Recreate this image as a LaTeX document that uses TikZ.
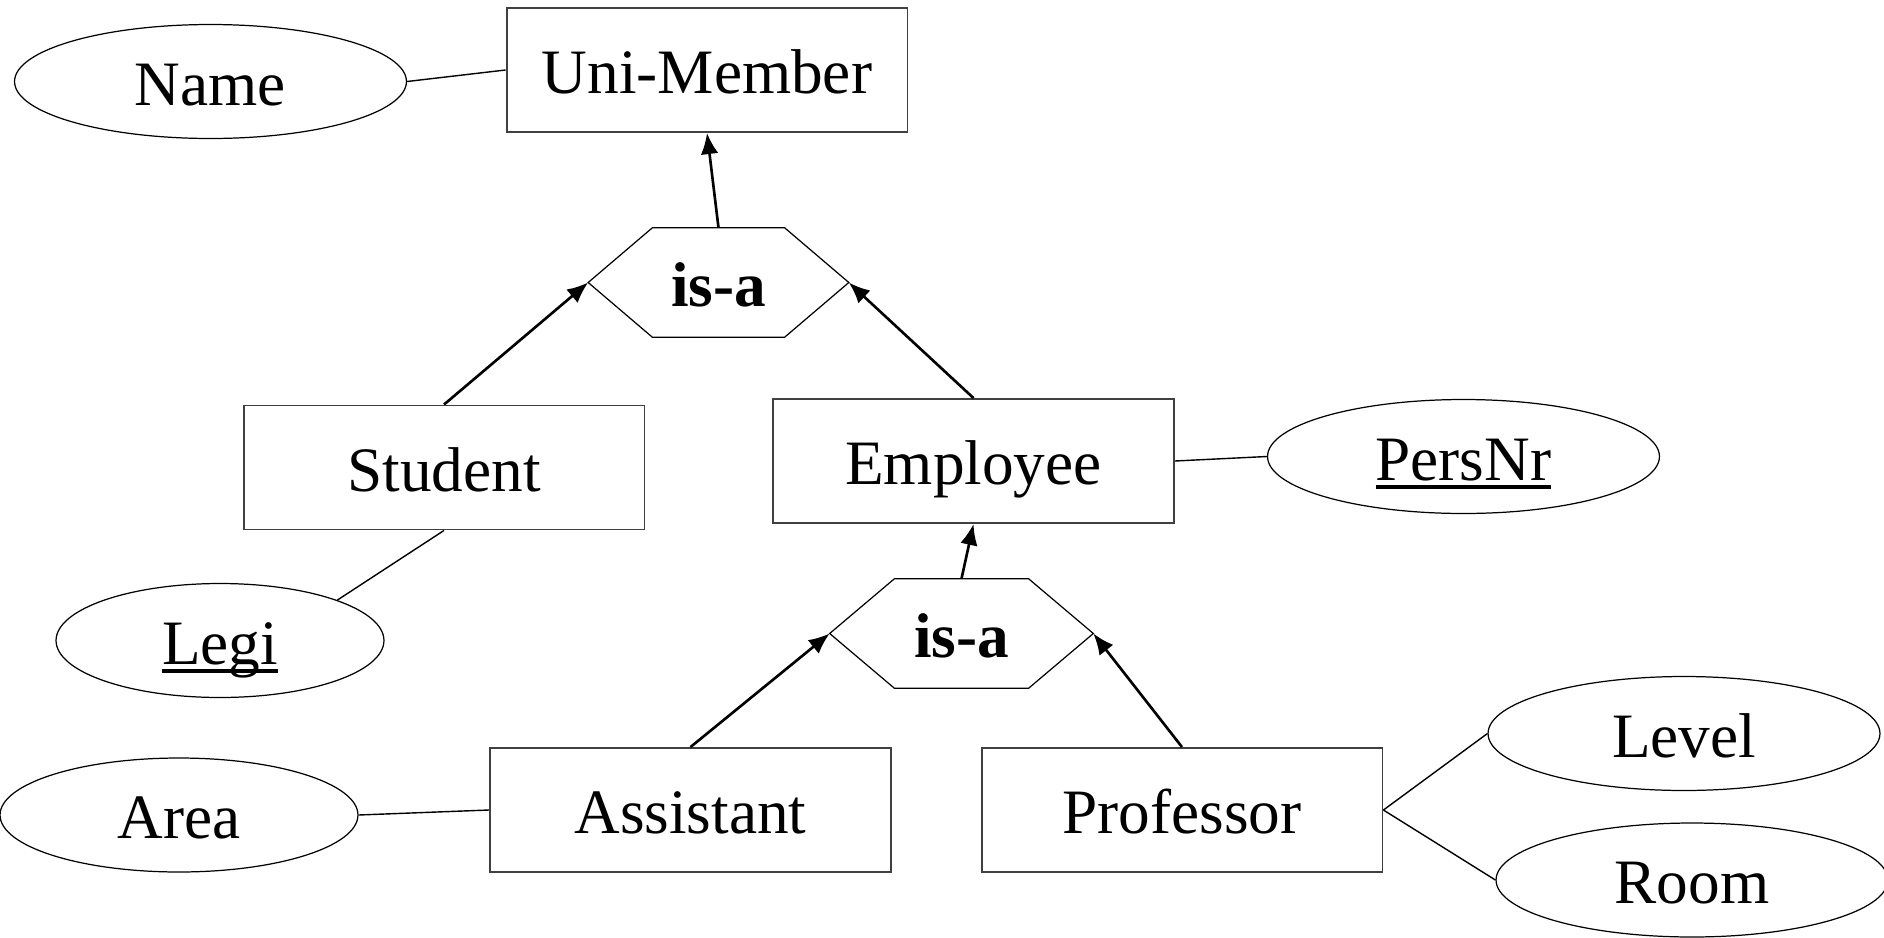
\documentclass[tikz,border=0pt]{standalone}
\usepackage{fontspec}
\setmainfont{Liberation Serif}
\usetikzlibrary{arrows.meta,calc,shapes.geometric}
% key attribute: text with a thick underline below the baseline
\newcommand\keyattr[1]{\vtop{\hbox{\raisebox{0pt}[\height][0pt]{#1}}\kern2.6pt\hrule height 2.4pt}}
\begin{document}
\begin{tikzpicture}[x=0.02cm,y=-0.02cm,
  every node/.style={font=\fontsize{36}{40}\selectfont, text height=27pt, text depth=0pt, inner sep=0pt},
  entity/.style={draw=black!75, line width=1.1pt, minimum width=8.02cm, minimum height=2.48cm},
  attr/.style={draw, ellipse, line width=0.7pt, minimum width=7.84cm, minimum height=2.28cm},
  isabox/.style={minimum width=5.2cm, minimum height=2.18cm, font=\fontsize{36}{40}\selectfont\bfseries},
  hexline/.style={line width=0.7pt},
  isa/.style={line width=1.5pt, -{Latex[length=12pt,width=10pt]}},
  link/.style={line width=0.8pt}]
\useasboundingbox (0,0) rectangle (1884,937);

% entities
\node[entity] (um)   at (707,70)    {Uni-Member};
\node[entity] (stu)  at (444,467.5) {Student};
\node[entity] (emp)  at (973.5,461) {Employee};
\node[entity] (asst) at (690.5,810) {Assistant};
\node[entity] (prof) at (1182,810)  {Professor};

% attributes
\node[attr] (name)  at (210.5,81.5)  {Name};
\node[attr] (pers)  at (1463.5,456.5) {\keyattr{PersNr}};
\node[attr, minimum width=6.56cm] (legi) at (220,640.5) {\keyattr{Legi}};
\node[attr, minimum width=7.16cm] (area) at (179,815) {Area};
\node[attr] (level) at (1684,733.5) {Level};
\node[attr] (room)  at (1692,880)   {Room};

% is-a relationships (hexagons)
\node[isabox] (h1) at (718.5,282.5) {is-a};
\node[isabox, minimum width=5.26cm] (h2) at (961.5,633.5) {is-a};
\draw[hexline] (h1.west) -- ($(h1.north)+(-66,0)$) -- ($(h1.north)+(66,0)$) -- (h1.east)
  -- ($(h1.south)+(66,0)$) -- ($(h1.south)+(-66,0)$) -- cycle;
\draw[hexline] (h2.west) -- ($(h2.north)+(-67,0)$) -- ($(h2.north)+(67,0)$) -- (h2.east)
  -- ($(h2.south)+(67,0)$) -- ($(h2.south)+(-67,0)$) -- cycle;

% generalisation arrows
\draw[isa] (h1.north) -- (um.south);
\draw[isa] (stu.north) -- (h1.west);
\draw[isa] (emp.north) -- (h1.east);
\draw[isa] (h2.north) -- (emp.south);
\draw[isa] (asst.north) -- (h2.west);
\draw[isa] (prof.north) -- (h2.east);

% attribute links
\draw[link] (name.east) -- (um.west);
\draw[link] (emp.east) -- (pers.west);
\draw[link] (legi.19) -- (stu.south);
\draw[link] (area.east) -- (asst.west);
\draw[link] (prof.east) -- (level.west);
\draw[link] (prof.east) -- (room.west);
\end{tikzpicture}
\end{document}
